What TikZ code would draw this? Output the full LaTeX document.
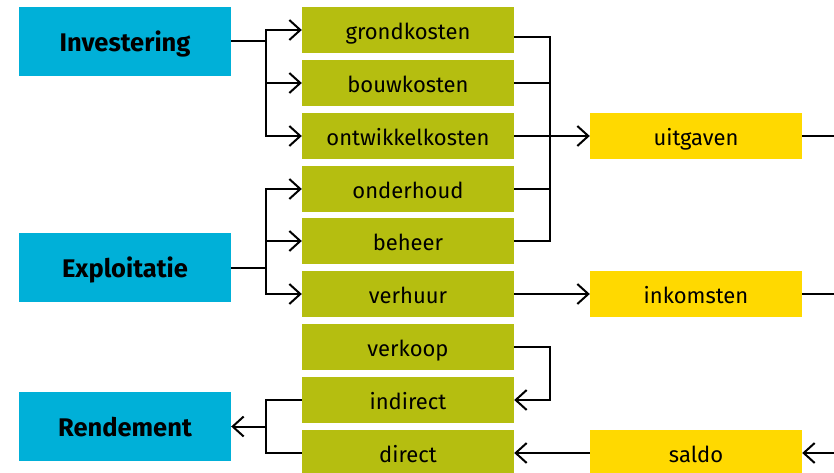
\documentclass[tikz,border=0pt]{standalone}
\usepackage{fontspec}
\setmainfont{Fira Sans}
\usetikzlibrary{arrows.meta}
\definecolor{cblue}{RGB}{0,176,216}
\definecolor{cgreen}{RGB}{181,190,16}
\definecolor{cyellow}{RGB}{255,217,0}
\begin{document}
\begin{tikzpicture}[x=1pt,y=-1pt,
  box/.style={rectangle, inner sep=0pt, minimum width=212pt, text=black, text depth=0pt},
  bluebox/.style={box, fill=cblue, minimum height=69pt, text height=20.6pt, font=\fontsize{25.5}{28}\selectfont\bfseries},
  greenbox/.style={box, fill=cgreen, minimum height=46pt, text height=18.6pt, font=\fontsize{22}{26}\selectfont},
  yellowbox/.style={box, fill=cyellow, minimum height=46pt, text height=18.6pt, font=\fontsize{22}{26}\selectfont},
  conn/.style={line width=2pt, black},
  arr/.style={conn, -{Straight Barb[length=11pt,width=20pt,line width=2pt]}}]
\useasboundingbox (0,0) rectangle (834,473);
% blue
\node[bluebox] (inv) at (125,41.5) {Investering};
\node[bluebox] (expl) at (125,267.5) {Exploitatie};
\node[bluebox] (rend) at (125,426.5) {Rendement};
% green
\node[greenbox] (grond) at (408,30) {grondkosten};
\node[greenbox] (bouw) at (408,83) {bouwkosten};
\node[greenbox] (ontw) at (408,136) {ontwikkelkosten};
\node[greenbox] (onderh) at (408,189) {onderhoud};
\node[greenbox] (beheer) at (408,241) {beheer};
\node[greenbox] (verh) at (408,294) {verhuur};
\node[greenbox] (verk) at (408,347) {verkoop};
\node[greenbox] (indir) at (408,400) {indirect};
\node[greenbox] (dir) at (408,453) {direct};
% yellow
\node[yellowbox] (uitg) at (696,136) {uitgaven};
\node[yellowbox] (ink) at (696,294) {inkomsten};
\node[yellowbox] (saldo) at (696,453) {saldo};
% coordinates
\coordinate (jl1) at (266,41.5);
\coordinate (jl2) at (266,267.5);
\coordinate (jl3) at (266,426.5);
\coordinate (tr1) at (550,37);
\coordinate (tr2) at (550,241);
\coordinate (e1) at (834,136);
\coordinate (e2) at (834,294);
\coordinate (e3) at (834,453);
% investering
\draw[conn] (inv.east) -- (jl1);
\draw[arr] (jl1) |- (grond.west);
\draw[arr] (jl1) |- (bouw.west);
\draw[arr] (jl1) |- (ontw.west);
% exploitatie
\draw[conn] (expl.east) -- (jl2);
\draw[arr] (jl2) |- (onderh.west);
\draw[arr] (jl2) |- (beheer.west);
\draw[arr] (jl2) |- (verh.west);
% costs trunk
\draw[conn] (grond.east |- tr1) -- (tr1) -- (tr2) -- (beheer.east);
\draw[conn] (bouw.east) -- (bouw.east -| tr1);
\draw[conn] (onderh.east) -- (onderh.east -| tr1);
\draw[arr] (ontw.east) -- (uitg.west);
\draw[conn] (uitg.east) -- (e1);
% income
\draw[arr] (verh.east) -- (ink.west);
\draw[conn] (ink.east) -- (e2);
% saldo
\draw[arr] (e3) -- (saldo.east);
\draw[arr] (saldo.west) -- (dir.east);
% verkoop -> indirect
\draw[arr] (verk.east) -- (verk.east -| tr1) |- (indir.east);
% rendement
\draw[conn] (indir.west) -- (indir.west -| jl3) -- (dir.west -| jl3) -- (dir.west);
\draw[arr] (jl3) -- (rend.east);
\end{tikzpicture}
\end{document}
